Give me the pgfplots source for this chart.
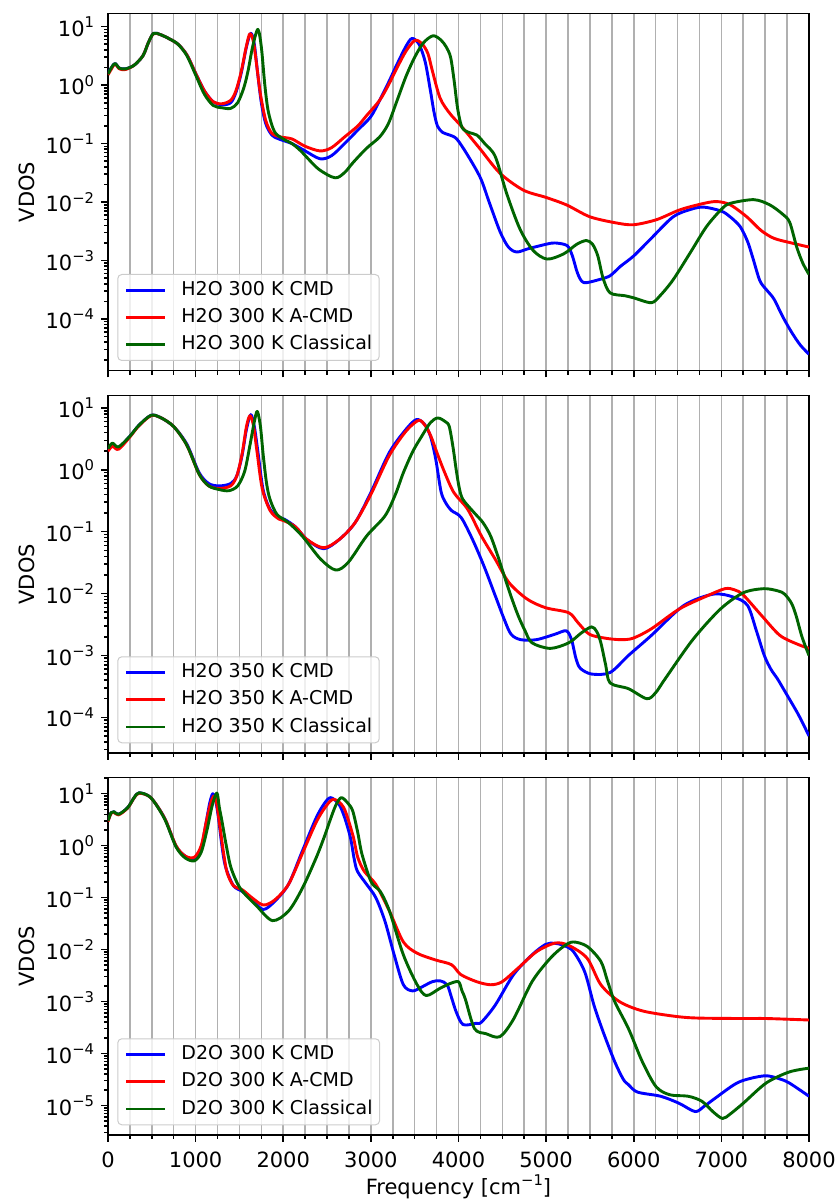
\documentclass[border=0pt]{standalone}
\usepackage{fontspec}
\setmainfont{DejaVu Sans}
\usepackage{pgfplots}
\pgfplotsset{compat=1.18}
\definecolor{mplgreen}{rgb}{0,0.392,0}
\definecolor{gridgray}{HTML}{B0B0B0}
\definecolor{framegray}{HTML}{CCCCCC}
\newcommand{\fs}{\fontsize{9.5}{11}\selectfont}
\newcommand{\fl}{\fontsize{10.5}{12}\selectfont}
\newcommand{\tp}[1]{10\raisebox{0.42em}{\fontsize{7.4}{8}\selectfont#1}}
\newcommand{\ytl}{\pgfmathtruncatemacro\e{round(\tick)}\ifnum\e<0 \tp{−\the\numexpr-\e\relax}\else\tp{\e}\fi}
\pgfplotsset{
  vdospanel/.style={
    scale only axis, width=350.5pt, height=178.7pt,
    xmin=0, xmax=8000,
    axis line style={line width=0.78pt, black},
    every tick/.style={line width=0.78pt, black},
    major tick length=3.4pt, minor tick length=1.95pt,
    tick align=outside, xtick pos=bottom, ytick pos=left,
    xtick={0,1000,2000,3000,4000,5000,6000,7000,8000},
    minor x tick num=3,
    xmajorgrids, xminorgrids,
    major grid style={gridgray, line width=0.78pt},
    minor grid style={gridgray, line width=0.78pt},
    ytick={1e-5,1e-4,1e-3,1e-2,1e-1,1,10},
    minor ytick={2e-6,3e-6,4e-6,5e-6,6e-6,7e-6,8e-6,9e-6,
      2e-5,3e-5,4e-5,5e-5,6e-5,7e-5,8e-5,9e-5,
      2e-4,3e-4,4e-4,5e-4,6e-4,7e-4,8e-4,9e-4,
      2e-3,3e-3,4e-3,5e-3,6e-3,7e-3,8e-3,9e-3,
      0.02,0.03,0.04,0.05,0.06,0.07,0.08,0.09,
      0.2,0.3,0.4,0.5,0.6,0.7,0.8,0.9,
      2,3,4,5,6,7,8,9,20},
    yticklabel={\ytl},
    ticklabel style={font=\fl},
    xticklabel style={yshift=-1.5pt},
    ylabel={VDOS},
    y label style={at={(axis description cs:-0.1155,0.5)}, anchor=center, font=\fl},
    every axis plot/.append style={line width=1.45pt, line join=round, smooth, tension=0.5},
    legend cell align=left,
    legend image code/.code={\draw[##1] (0pt,0pt) -- (19.5pt,0pt);},
    legend style={at={(axis description cs:0,0)}, anchor=south west,
      xshift=4.65pt, yshift=4.85pt,
      draw=framegray, line width=0.5pt, fill=white, fill opacity=0.8, text opacity=1,
      rounded corners=2pt, inner xsep=3.5pt, inner ysep=3.4pt,
      font=\fs, row sep=4.6pt,
      nodes={inner sep=0pt, text height=7pt, text depth=2pt},
      /tikz/every odd column/.append style={column sep=7.35pt}},
  }
}
\begin{document}
\begin{tikzpicture}
\useasboundingbox (0,0) rectangle (420pt,600pt);
% ---------------- Panel 1 ----------------
\begin{axis}[ymode=log, log basis y=10, vdospanel, at={(54pt,414.65pt)}, anchor=south west,
  ymin=1.306e-5, ymax=16.94, xticklabels={}]
\addplot[blue] coordinates {(0,1.6) (40,2.0) (80,2.35) (130,1.95) (200,1.9) (300,2.2) (400,3.2) (460,5.3) (520,7.7) (600,7.3) (700,6.2) (800,5.0) (900,3.3) (1000,1.6) (1100,0.8) (1200,0.52) (1300,0.46) (1400,0.5) (1460,0.75) (1520,1.6) (1580,4.5) (1630,7.7) (1670,5.0) (1710,1.5) (1750,0.5) (1800,0.22) (1870,0.14) (1950,0.12) (2100,0.1) (2250,0.075) (2420,0.055) (2550,0.062) (2700,0.1) (2850,0.17) (3000,0.29) (3100,0.55) (3200,1.1) (3300,2.3) (3400,4.6) (3470,6.3) (3550,5.0) (3620,2.5) (3680,0.8) (3720,0.35) (3760,0.2) (3820,0.155) (3900,0.14) (3980,0.12) (4100,0.065) (4250,0.026) (4350,0.01) (4475,0.0031) (4570,0.0017) (4665,0.0014) (4800,0.0016) (5000,0.0019) (5100,0.002) (5240,0.0018) (5300,0.0012) (5360,0.0006) (5430,0.00042) (5600,0.00047) (5730,0.00055) (5850,0.0008) (6000,0.0012) (6200,0.0024) (6450,0.0056) (6650,0.0075) (6800,0.0082) (7000,0.007) (7100,0.0056) (7215,0.0038) (7300,0.0021) (7360,0.0011) (7440,0.00045) (7520,0.00031) (7600,0.00022) (7700,0.00011) (7800,0.00006) (7900,0.000036) (8000,0.000025)};
\addlegendentry{H2O 300 K CMD}
\addplot[red] coordinates {(0,1.5) (40,1.9) (80,2.3) (130,1.9) (200,1.85) (300,2.2) (400,3.2) (460,5.3) (520,7.6) (600,7.3) (700,6.2) (800,5.0) (900,3.3) (1000,1.6) (1100,0.8) (1200,0.52) (1300,0.48) (1400,0.55) (1460,0.8) (1520,1.7) (1580,4.7) (1620,7.6) (1660,5.5) (1700,2.0) (1740,0.7) (1800,0.25) (1870,0.15) (1970,0.13) (2100,0.12) (2250,0.09) (2420,0.075) (2550,0.085) (2700,0.13) (2850,0.2) (2950,0.3) (3100,0.55) (3200,1.0) (3300,2.0) (3400,3.8) (3500,5.8) (3580,5.2) (3650,3.5) (3700,1.8) (3790,0.6) (3900,0.33) (4018,0.21) (4100,0.15) (4250,0.08) (4475,0.031) (4741,0.016) (5000,0.012) (5236,0.0089) (5500,0.0056) (5800,0.0044) (6000,0.0041) (6260,0.005) (6530,0.0074) (6800,0.0095) (6950,0.0102) (7100,0.009) (7290,0.0056) (7450,0.0033) (7600,0.0024) (7800,0.002) (8000,0.0017)};
\addlegendentry{H2O 300 K A-CMD}
\addplot[mplgreen] coordinates {(0,1.55) (40,2.0) (80,2.35) (130,1.95) (200,1.9) (300,2.2) (400,3.2) (460,5.3) (520,7.7) (600,7.3) (700,6.2) (800,5.0) (900,3.2) (1000,1.5) (1100,0.7) (1200,0.45) (1300,0.41) (1400,0.40) (1480,0.5) (1550,0.9) (1600,1.8) (1650,4.5) (1710,9.0) (1750,4.5) (1790,1.0) (1830,0.35) (1900,0.16) (2000,0.12) (2100,0.1) (2200,0.075) (2400,0.037) (2590,0.026) (2700,0.032) (2800,0.048) (2950,0.083) (3100,0.13) (3200,0.22) (3300,0.55) (3400,1.4) (3500,3.0) (3600,5.3) (3710,7.0) (3800,5.9) (3860,4.5) (3910,3.0) (3950,1.2) (3990,0.4) (4040,0.19) (4120,0.155) (4210,0.14) (4300,0.1) (4420,0.06) (4550,0.014) (4700,0.0035) (4850,0.0015) (5010,0.00106) (5200,0.0013) (5350,0.0019) (5460,0.0022) (5530,0.0019) (5590,0.0012) (5650,0.0005) (5730,0.00028) (5900,0.00025) (6000,0.00023) (6200,0.00019) (6300,0.00025) (6450,0.00047) (6650,0.0014) (6830,0.0038) (7000,0.0075) (7100,0.0095) (7370,0.011) (7550,0.009) (7700,0.0062) (7780,0.0045) (7860,0.0017) (7930,0.0009) (8000,0.00058)};
\addlegendentry{H2O 300 K Classical}
\end{axis}
% ---------------- Panel 2 ----------------
\begin{axis}[ymode=log, log basis y=10, vdospanel, at={(54pt,223.5pt)}, anchor=south west,
  ymin=2.65e-5, ymax=15.85, xticklabels={}]
\addplot[blue] coordinates {(0,2.1) (50,2.6) (120,2.3) (250,3.5) (350,5.2) (490,7.6) (600,7.0) (750,5.0) (900,2.6) (1040,0.9) (1150,0.6) (1270,0.55) (1400,0.6) (1470,0.8) (1530,1.7) (1580,4.5) (1630,7.8) (1670,5.0) (1710,2.0) (1770,0.48) (1850,0.23) (1950,0.17) (2010,0.16) (2140,0.12) (2270,0.075) (2460,0.053) (2640,0.075) (2820,0.14) (3000,0.43) (3210,1.9) (3400,4.5) (3520,6.5) (3610,5.5) (3680,3.5) (3740,1.5) (3800,0.45) (3850,0.3) (3920,0.22) (4030,0.17) (4160,0.075) (4290,0.028) (4420,0.0092) (4520,0.0039) (4600,0.0022) (4710,0.0018) (4890,0.0018) (5100,0.0022) (5230,0.0025) (5290,0.0018) (5340,0.0009) (5390,0.00062) (5520,0.0005) (5730,0.00053) (5940,0.001) (6200,0.0021) (6570,0.0064) (6910,0.0098) (7146,0.0087) (7300,0.0064) (7400,0.0025) (7490,0.001) (7565,0.0006) (7640,0.00042) (7720,0.00027) (7880,0.00011) (8000,0.00005)};
\addlegendentry{H2O 350 K CMD}
\addplot[red] coordinates {(0,2.0) (50,2.4) (120,2.15) (250,3.4) (350,5.1) (490,7.5) (600,7.0) (750,5.0) (900,2.5) (1040,0.85) (1150,0.55) (1270,0.5) (1400,0.55) (1470,0.8) (1530,1.8) (1580,5.0) (1620,7.5) (1660,5.2) (1700,2.0) (1760,0.5) (1850,0.22) (1950,0.16) (2010,0.15) (2140,0.12) (2270,0.075) (2460,0.055) (2640,0.075) (2820,0.14) (3000,0.4) (3210,1.7) (3400,4.2) (3544,6.3) (3620,5.2) (3685,3.5) (3760,1.8) (3843,0.9) (3947,0.43) (4105,0.23) (4262,0.085) (4419,0.036) (4577,0.015) (4786,0.0081) (4996,0.0059) (5258,0.0049) (5363,0.0034) (5494,0.0022) (5677,0.0019) (5850,0.0018) (5992,0.0019) (6202,0.0027) (6517,0.0056) (6831,0.0091) (7041,0.012) (7150,0.0115) (7250,0.0095) (7460,0.0044) (7670,0.0021) (7879,0.0015) (8000,0.0013)};
\addlegendentry{H2O 350 K A-CMD}
\addplot[mplgreen] coordinates {(0,2.2) (50,2.7) (120,2.35) (250,3.5) (350,5.2) (490,7.6) (600,7.0) (750,5.0) (900,2.5) (1040,0.85) (1150,0.55) (1270,0.48) (1380,0.46) (1480,0.55) (1560,0.95) (1620,2.5) (1670,6.0) (1704,8.8) (1740,5.0) (1772,1.7) (1810,0.6) (1850,0.33) (1929,0.19) (2060,0.14) (2217,0.085) (2427,0.036) (2600,0.024) (2742,0.032) (2951,0.085) (3161,0.18) (3280,0.4) (3371,0.9) (3480,2.0) (3581,3.5) (3680,5.8) (3764,6.9) (3850,6.0) (3895,5.0) (3940,2.2) (3974,1.0) (4010,0.5) (4052,0.33) (4183,0.2) (4280,0.14) (4367,0.085) (4450,0.04) (4524,0.019) (4600,0.009) (4681,0.0044) (4760,0.0025) (4839,0.0016) (5048,0.0013) (5258,0.0016) (5400,0.0023) (5520,0.0029) (5580,0.0024) (5625,0.0016) (5680,0.0007) (5730,0.00036) (5940,0.00029) (6149,0.0002) (6250,0.00025) (6359,0.00042) (6674,0.0018) (6988,0.0056) (7250,0.0103) (7486,0.012) (7650,0.011) (7722,0.0098) (7800,0.007) (7853,0.0044) (7920,0.002) (8000,0.001)};
\addlegendentry{H2O 350 K Classical}
\end{axis}
% ---------------- Panel 3 ----------------
\begin{axis}[ymode=log, log basis y=10, vdospanel, at={(54pt,32.5pt)}, anchor=south west,
  ymin=2.69e-6, ymax=20.4,
  xticklabels={0,1000,2000,3000,4000,5000,6000,7000,8000},
  xlabel={Frequency [cm\raisebox{0.45em}{\fontsize{7.4}{8}\selectfont −1}]},
  x label style={at={(axis description cs:0.5,0)}, yshift=-26pt, anchor=center, font=\fl}]
\addplot[blue] coordinates {(0,3.0) (35,4.3) (68,4.5) (120,4.0) (225,5.4) (300,8.5) (356,10.4) (488,8.4) (645,3.4) (776,0.98) (881,0.63) (986,0.54) (1064,0.9) (1120,2.8) (1160,6.5) (1195,10.0) (1225,8.0) (1260,3.5) (1300,1.0) (1340,0.4) (1431,0.17) (1536,0.13) (1641,0.091) (1772,0.059) (1903,0.085) (2060,0.18) (2217,0.78) (2375,3.4) (2470,6.5) (2543,8.4) (2637,6.2) (2700,3.5) (2768,1.4) (2810,0.55) (2847,0.32) (2951,0.18) (3056,0.1) (3161,0.035) (3266,0.0079) (3371,0.0021) (3476,0.0016) (3581,0.0019) (3700,0.0024) (3790,0.0025) (3870,0.0021) (3920,0.0012) (3974,0.00063) (4052,0.00036) (4200,0.00038) (4262,0.0004) (4419,0.00085) (4629,0.0033) (4839,0.0079) (4996,0.0126) (5100,0.0132) (5200,0.012) (5310,0.0092) (5441,0.0037) (5546,0.00085) (5651,0.00026) (5782,0.00007) (5880,0.000032) (5940,0.000025) (6044,0.000018) (6306,0.000015) (6516,0.000011) (6700,0.0000076) (6800,0.0000095) (6936,0.000014) (7198,0.000028) (7486,0.000037) (7650,0.000033) (7775,0.000027) (8000,0.000015)};
\addlegendentry{D2O 300 K CMD}
\addplot[red] coordinates {(0,2.9) (35,4.2) (68,4.4) (120,3.9) (225,5.3) (300,8.4) (356,10.2) (488,8.4) (645,3.4) (776,1.0) (881,0.63) (986,0.6) (1064,1.0) (1120,2.8) (1170,6.5) (1210,9.0) (1240,6.5) (1275,2.5) (1320,0.7) (1360,0.3) (1431,0.17) (1536,0.14) (1641,0.1) (1772,0.072) (1903,0.09) (2060,0.18) (2217,0.7) (2375,2.8) (2480,5.5) (2574,7.8) (2690,5.4) (2794,1.6) (2850,0.6) (2925,0.32) (3056,0.18) (3214,0.054) (3371,0.014) (3528,0.0085) (3738,0.0063) (3921,0.0051) (4026,0.0033) (4209,0.0024) (4367,0.0021) (4498,0.0024) (4681,0.0044) (4891,0.0091) (5100,0.0133) (5258,0.012) (5468,0.0068) (5625,0.0021) (5835,0.001) (6097,0.00066) (6464,0.00052) (6726,0.00048) (7250,0.00047) (7512,0.00047) (8000,0.00044)};
\addlegendentry{D2O 300 K A-CMD}
\addplot[mplgreen] coordinates {(0,3.0) (35,4.3) (68,4.5) (120,4.0) (225,5.4) (300,8.5) (356,10.4) (488,8.4) (645,3.3) (776,0.95) (881,0.58) (986,0.51) (1064,0.75) (1130,2.0) (1190,6.0) (1243,10.3) (1270,5.5) (1300,3.0) (1350,1.0) (1405,0.37) (1510,0.15) (1693,0.07) (1877,0.036) (2060,0.055) (2217,0.15) (2375,0.58) (2470,1.5) (2532,3.0) (2600,6.0) (2663,8.4) (2740,6.5) (2794,4.6) (2850,1.8) (2899,0.68) (3004,0.2) (3109,0.13) (3214,0.054) (3371,0.0079) (3528,0.0021) (3633,0.0013) (3790,0.0018) (3900,0.0022) (4000,0.0024) (4040,0.0016) (4079,0.0011) (4183,0.0003) (4314,0.00024) (4472,0.00021) (4629,0.00046) (4839,0.0024) (5048,0.0068) (5200,0.0115) (5310,0.014) (5468,0.0115) (5625,0.0059) (5700,0.0025) (5782,0.001) (5940,0.0003) (6097,0.00007) (6254,0.000023) (6411,0.000016) (6621,0.000015) (6778,0.000012) (6910,0.0000074) (7014,0.0000056) (7100,0.0000068) (7250,0.000011) (7512,0.000027) (7775,0.000044) (8000,0.000052)};
\addlegendentry{D2O 300 K Classical}
\end{axis}
\end{tikzpicture}
\end{document}
